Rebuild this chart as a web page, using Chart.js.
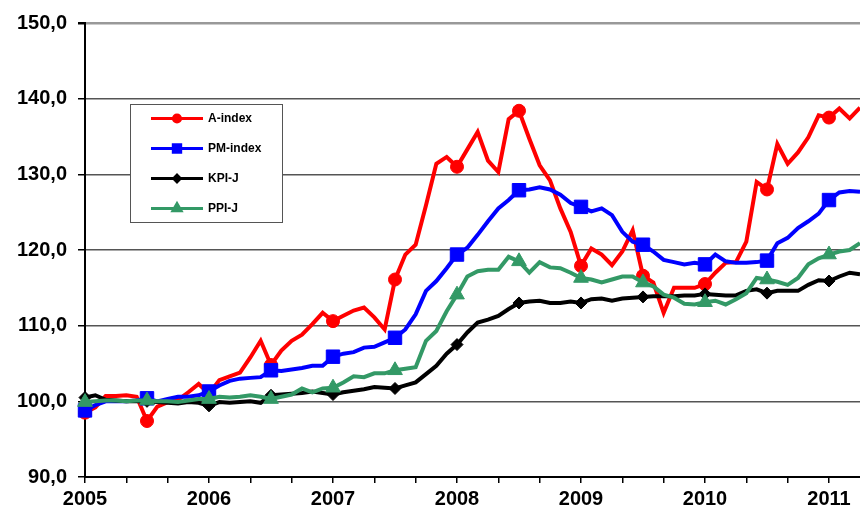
<!DOCTYPE html>
<html>
<head>
<meta charset="utf-8">
<script src="https://cdn.jsdelivr.net/npm/chart.js@4/dist/chart.umd.min.js"></script>
<style>
html,body{margin:0;padding:0;background:#fff;}
#wrap{width:860px;height:513px;position:relative;}
</style>
</head>
<body>
<div id="wrap"><canvas id="c" width="860" height="513"></canvas></div>
<script>
// Monthly index values, Jan 2005 .. Apr 2011
const startYear = 2005;
const yearLabels = ['2005','2006','2007','2008','2009','2010','2011'];
const yTicks = [90, 100, 110, 120, 130, 140, 150];
const seriesNames = ['A-index', 'PM-index', 'KPI-J', 'PPI-J'];

const aIndex = [
  98.5, 99.2, 100.7, 100.7, 100.8, 100.6, 97.4, 99.3, 99.9, 100.2, 101.2, 102.3,
  101.0, 102.8, 103.3, 103.8, 105.8, 108.0, 104.8, 106.7, 108.0, 108.8, 110.2, 111.7,
  110.6, 111.3, 112.0, 112.4, 111.1, 109.5, 116.1, 119.4, 120.7, 125.9, 131.4, 132.3,
  131.0, 133.3, 135.6, 131.8, 130.3, 137.3, 138.4, 134.7, 131.2, 129.2, 125.5, 122.4,
  117.9, 120.2, 119.4, 118.0, 119.8, 122.6, 116.6, 115.7, 111.7, 115.0, 115.0, 115.0,
  115.5, 117.0, 118.3, 118.4, 121.1, 129.0, 128.0, 134.0, 131.4, 132.9, 134.9, 137.8,
  137.5, 138.7, 137.4, 138.8
];
const pmIndex = [
  98.8, 99.5, 100.0, 100.0, 100.0, 100.1, 100.4, 100.0, 100.3, 100.6, 100.6, 100.8,
  101.3, 102.1, 102.7, 103.0, 103.1, 103.2, 104.1, 104.0, 104.2, 104.4, 104.7, 104.7,
  105.9, 106.3, 106.5, 107.1, 107.2, 107.8, 108.4, 109.5, 111.5, 114.6, 115.9, 117.6,
  119.4, 120.3, 122.0, 123.8, 125.5, 126.6, 127.9, 128.0, 128.3, 128.0, 127.3, 126.2,
  125.7, 125.1, 125.5, 124.6, 122.4, 121.1, 120.7, 119.8, 118.7, 118.4, 118.1, 118.3,
  118.1, 119.4, 118.5, 118.3, 118.3, 118.4, 118.6, 120.9, 121.6, 122.9, 123.8, 124.8,
  126.6, 127.6, 127.8, 127.7
];
const kpiJ = [
  100.5, 100.8, 100.2, 100.1, 100.0, 100.0, 100.0, 99.9, 99.8, 99.7, 99.9, 99.8,
  99.4, 99.9, 99.8, 99.9, 100.0, 99.8, 100.8, 100.9, 101.0, 101.1, 101.3, 101.1,
  100.9, 101.2, 101.4, 101.6, 101.9, 101.8, 101.7, 102.1, 102.5, 103.6, 104.7, 106.3,
  107.5, 109.1, 110.4, 110.8, 111.3, 112.2, 113.0, 113.2, 113.3, 113.0, 113.0, 113.2,
  113.0, 113.5, 113.6, 113.3, 113.6, 113.7, 113.8, 113.9, 113.9, 113.9, 114.0, 114.0,
  114.2, 114.1, 114.0, 114.0, 114.6, 114.8, 114.3, 114.6, 114.6, 114.6, 115.4, 116.0,
  115.9, 116.5, 117.0, 116.8
];
const ppiJ = [
  99.9, 100.0, 100.1, 100.1, 100.0, 100.1, 100.1, 100.0, 100.0, 99.9, 100.1, 100.3,
  100.3, 100.6, 100.5, 100.6, 100.8, 100.6, 100.3, 100.6, 100.9, 101.7, 101.2, 101.7,
  101.8, 102.5, 103.3, 103.2, 103.7, 103.7, 104.1, 104.3, 104.5, 108.0, 109.3, 111.9,
  114.1, 116.5, 117.2, 117.4, 117.4, 119.1, 118.5, 117.0, 118.4, 117.7, 117.6, 117.0,
  116.3, 116.1, 115.7, 116.1, 116.5, 116.5, 115.7, 115.2, 114.1, 113.7, 112.9, 112.8,
  113.1, 113.3, 112.8, 113.5, 114.3, 116.3, 116.1, 115.8, 115.4, 116.3, 118.1, 118.9,
  119.4, 119.8, 120.0, 120.9
];

const toXY = arr => arr.map((v, i) => ({x: i, y: v}));
const markerEvery = 6;
const markerRadius = r => (ctx => (ctx.dataIndex % markerEvery === 0 ? r : 0));

const styles = [
  {color: '#FF0000', pointStyle: 'circle', r: 6.5},
  {color: '#0000FF', pointStyle: 'rect', r: 9.5},
  {color: '#000000', pointStyle: 'rectRot', r: 6},
  {color: '#339966', pointStyle: 'triangle', r: 8.5}
];
const values = [aIndex, pmIndex, kpiJ, ppiJ];

const datasets = values.map((vals, k) => ({
  label: seriesNames[k],
  data: toXY(vals),
  borderColor: styles[k].color,
  backgroundColor: styles[k].color,
  pointBackgroundColor: styles[k].color,
  pointBorderColor: styles[k].color,
  pointBorderWidth: 1,
  borderWidth: 4,
  pointStyle: styles[k].pointStyle,
  pointRadius: markerRadius(styles[k].r),
  pointHoverRadius: markerRadius(styles[k].r),
  tension: 0,
  clip: false,
  order: 4 - k
}));

const legendPlugin = {
  id: 'boxLegend',
  afterDraw(chart) {
    const c = chart.ctx;
    const bx = 130.5, by = 104.5, bw = 152, bh = 118;
    c.save();
    c.fillStyle = '#fff';
    c.fillRect(bx, by, bw, bh);
    c.strokeStyle = '#555';
    c.lineWidth = 1;
    c.strokeRect(bx, by, bw, bh);
    const rows = [118.5, 148.5, 178.5, 208.5];
    c.font = 'bold 12px "Liberation Sans", Arial, sans-serif';
    c.textBaseline = 'middle';
    c.textAlign = 'left';
    chart.data.datasets.forEach((ds, k) => {
      const y = rows[k];
      c.strokeStyle = ds.borderColor;
      c.lineWidth = 3;
      c.beginPath();
      c.moveTo(151, y);
      c.lineTo(203, y);
      c.stroke();
      c.fillStyle = ds.borderColor;
      Chart.helpers.drawPoint(c, {pointStyle: ds.pointStyle, radius: styles[k].r * 0.55, rotation: 0, borderWidth: 1}, 177, y);
      c.fillStyle = '#000';
      c.fillText(ds.label, 208, y + 0.5);
    });
    c.restore();
  }
};

new Chart(document.getElementById('c'), {
  type: 'line',
  data: {datasets},
  plugins: [legendPlugin],
  options: {
    responsive: false,
    devicePixelRatio: 1,
    animation: false,
    events: [],
    layout: {autoPadding: false, padding: {top: 20, right: 0, left: 0, bottom: 0}},
    plugins: {legend: {display: false}, tooltip: {enabled: false}},
    scales: {
      x: {
        type: 'linear',
        min: 0,
        max: 75,
        afterFit(scale) { scale.height = 36; scale.paddingRight = 0; scale.paddingLeft = 0; },
        border: {display: true, color: '#000', width: 2},
        grid: {drawOnChartArea: false, drawTicks: true, tickLength: 6, color: '#000', lineWidth: 1.5},
        ticks: {
          stepSize: 4,
          includeBounds: false,
          autoSkip: false,
          maxRotation: 0,
          padding: 4,
          color: '#000',
          font: {family: '"Liberation Sans", Arial, sans-serif', size: 20, weight: 'bold'},
          callback: v => (v % 12 === 0 ? yearLabels[v / 12] : '')
        }
      },
      y: {
        min: yTicks[0],
        max: yTicks[yTicks.length - 1],
        afterFit(scale) { scale.width = 85; },
        border: {display: true, color: '#000', width: 2},
        grid: {
          drawTicks: true,
          tickLength: 7,
          tickColor: '#000',
          color: ctx => (ctx.tick && ctx.tick.value === 150 ? '#999' : '#555'),
          lineWidth: ctx => (ctx.tick && ctx.tick.value === 150 ? 2.5 : 1.5)
        },
        afterBuildTicks(scale) { scale.ticks = yTicks.map(v => ({value: v})); },
        ticks: {
          padding: 11,
          color: '#000',
          font: {family: '"Liberation Sans", Arial, sans-serif', size: 20, weight: 'bold'},
          callback: v => v.toFixed(1).replace('.', ',')
        }
      }
    }
  }
});
</script>
</body>
</html>
